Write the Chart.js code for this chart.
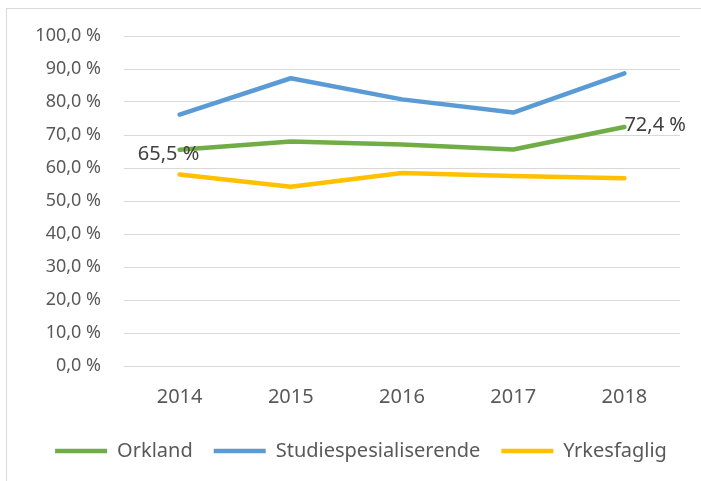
<!DOCTYPE html>
<html>
<head>
<meta charset="utf-8">
<script src="https://cdn.jsdelivr.net/npm/chart.js@4"></script>
<style>
  html, body { margin: 0; padding: 0; background: #fff; }
  #wrap { position: relative; width: 701px; height: 481px; overflow: hidden; }
  #frame { position: absolute; left: 6px; top: 8px; width: 720px; height: 500px;
           border-left: 1px solid #d9d9d9; border-top: 1px solid #d9d9d9; }
  canvas { position: absolute; left: 0; top: 0; }
</style>
</head>
<body>
<div id="wrap">
  <div id="frame"></div>
  <canvas id="myChart" width="701" height="481"></canvas>
</div>
<script>
//data
const years = ['2014', '2015', '2016', '2017', '2018'];
const orkland = [65.5, 68.0, 67.1, 65.6, 72.4];
const studie = [76.2, 87.2, 80.8, 76.8, 88.7];
const yrkes = [58.0, 54.3, 58.5, 57.6, 56.9];
const seriesNames = ['Orkland', 'Studiespesialiserende', 'Yrkesfaglig'];
const seriesColors = ['#70ad47', '#5b9bd5', '#ffc000'];

const ctx = document.getElementById('myChart');
const fontName = "'Noto Sans', sans-serif";

function pct(v) {
  return v.toFixed(1).replace('.', ',') + ' %';
}

// labels on first and last point of Orkland
const endLabels = {
  id: 'endLabels',
  afterDatasetsDraw(chart) {
    const c = chart.ctx;
    const x = chart.scales.x;
    const y = chart.scales.y;
    c.save();
    c.font = '20px ' + fontName;
    c.fillStyle = '#404040';
    c.textBaseline = 'middle';
    // first
    c.textAlign = 'center';
    c.fillText(pct(orkland[0]), x.getPixelForValue(0) - 11, y.getPixelForValue(orkland[0]) + 4);
    // last
    c.textAlign = 'left';
    const n = orkland.length - 1;
    c.fillText(pct(orkland[n]), x.getPixelForValue(n), y.getPixelForValue(orkland[n]) - 2);
    c.restore();
  }
};

// move legend a bit right, like in the excel chart
const legendShift = {
  id: 'legendShift',
  afterLayout(chart) {
    chart.legend.left += 21;
    chart.legend.right += 21;
  }
};

new Chart(ctx, {
  type: 'line',
  data: {
    labels: years,
    datasets: [orkland, studie, yrkes].map((d, i) => ({
      label: seriesNames[i],
      data: d,
      borderColor: seriesColors[i],
      backgroundColor: seriesColors[i],
      borderWidth: 4.5,
      pointRadius: 0,
      tension: 0,
      borderCapStyle: 'round',
      borderJoinStyle: 'round'
    }))
  },
  options: {
    responsive: false,
    animation: false,
    layout: { padding: { left: 0, right: 21, top: 36, bottom: 10 } },
    plugins: {
      tooltip: { enabled: false },
      legend: {
        position: 'bottom',
        labels: {
          usePointStyle: true,
          pointStyle: 'line',
          pointStyleWidth: 52,
          color: '#595959',
          font: { family: fontName, size: 20 },
          padding: 21
        }
      }
    },
    scales: {
      x: {
        offset: true,
        grid: { display: false },
        border: { display: false },
        ticks: { color: '#595959', font: { family: fontName, size: 20 }, padding: 11 }
      },
      y: {
        min: 0,
        max: 100,
        afterFit(scale) { scale.width = 124; },
        grid: { color: '#d9d9d9', lineWidth: 1, drawTicks: false },
        border: { display: false },
        ticks: {
          stepSize: 10,
          padding: 23,
          color: '#595959',
          font: { family: fontName, size: 18 },
          callback: (v) => pct(v)
        }
      }
    }
  },
  plugins: [endLabels, legendShift]
});
</script>
</body>
</html>
